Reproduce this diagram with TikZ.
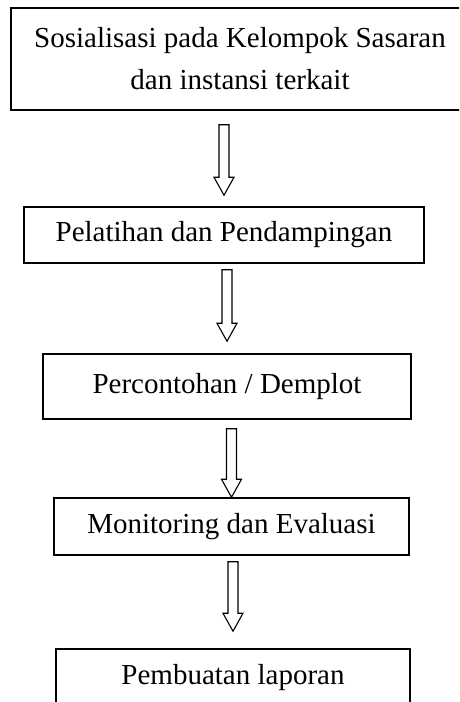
\documentclass[tikz,border=0pt]{standalone}
\usepackage{fontspec}
\setmainfont{Liberation Serif}
\usetikzlibrary{calc}

\begin{document}
\begin{tikzpicture}[x=1pt,y=-1pt,
  box/.style={draw,line width=1.5pt,inner sep=0pt,align=center,
    font=\fontsize{29}{42}\selectfont},
  hollow/.style={draw,line width=1.1pt,fill=white}]
\path[use as bounding box,clip] (0,0) rectangle (459,702);
\node[box,minimum width=458pt,minimum height=102pt] (b1) at (240,59)
  {Sosialisasi pada Kelompok Sasaran\\dan instansi terkait};
\node[box,minimum width=400pt,minimum height=56pt] (b2) at (224,235)
  {Pelatihan dan Pendampingan};
\node[box,minimum width=368pt,minimum height=65pt] (b3) at (227,386.5)
  {Percontohan / Demplot};
\node[box,minimum width=355pt,minimum height=57pt] (b4) at (231.5,526.5)
  {Monitoring dan Evaluasi};
\node[box,minimum width=354pt,minimum height=57pt] (b5) at (233,677.5)
  {Pembuatan laporan};
\foreach \i/\j/\ga/\gb in {1/2/14/11,2/3/6/12,3/4/9/0,4/5/6/17}
{\path (b\i.south -| b\j.north) ++(0,-\ga pt) coordinate (s\i);
\path (b\j.north) ++(0,\gb pt) coordinate (e\i);
\draw[hollow] let \p1=(s\i), \p2=(e\i) in
  (\x1-5pt,\y1) -- (\x1+5pt,\y1) -- (\x1+5pt,\y2+18pt)
  -- (\x1+10pt,\y2+18pt) -- (\x1,\y2) -- (\x1-10pt,\y2+18pt)
  -- (\x1-5pt,\y2+18pt) -- cycle;
}
\end{tikzpicture}
\end{document}
